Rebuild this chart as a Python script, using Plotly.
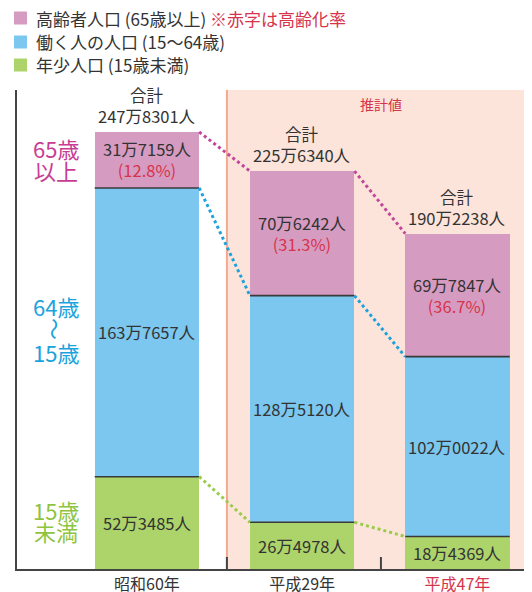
import plotly.graph_objects as go

# ---- data ----
periods = ["昭和60年", "平成29年", "平成47年"]
senior = [317159, 706242, 697847]      # 65歳以上
working = [1637657, 1285120, 1020022]  # 15〜64歳
young = [523485, 264978, 184369]       # 15歳未満
totals = [2478301, 2256340, 1902238]
aging_rate = ["12.8%", "31.3%", "36.7%"]

legend_names = ["高齢者人口 (65歳以上)", "働く人の人口 (15〜64歳)", "年少人口 (15歳未満)"]
legend_note = "※赤字は高齢化率"

# ---- style ----
FONT = "Noto Sans CJK JP"
C_PINK, C_BLUE, C_GREEN = "#d69bc1", "#7bc7ef", "#add36b"
C_PINK_D, C_BLUE_D, C_GREEN_D = "#c2469b", "#1ea2dc", "#9bcb4b"
C_LAB_PINK, C_LAB_BLUE, C_LAB_GREEN = "#c83d94", "#1aa3dc", "#8fc441"
RED = "#d6334c"
TXT = "#333333"
BAR_W = 0.673

# page body has an 8px default margin; lay out in window pixels
OFF = 8
WIN_W, WIN_H = 532, 592
W, H = WIN_W - OFF, WIN_H - OFF
PLOT_L, PLOT_T, PLOT_B = 17, 90, 569   # window pixels
ML, MT = PLOT_L - OFF, PLOT_T - OFF
MR, MB = 0, WIN_H - PLOT_B
PW, PH = W - ML - MR, H - MT - MB


def PX(px):
    return (px - PLOT_L) / PW


def PY(py):
    return (PLOT_B - py) / PH


def fmt(v):
    return f"{v // 10000}万{v % 10000:04d}人"


xs = list(range(len(periods)))
fig = go.Figure()

for vals, col in [(young, C_GREEN), (working, C_BLUE), (senior, C_PINK)]:
    fig.add_trace(go.Bar(x=xs, y=vals, width=BAR_W, marker=dict(color=col, line=dict(width=0)),
                         showlegend=False, hoverinfo="skip"))

# segment separators
lvl_young = young
lvl_work = [a + b for a, b in zip(young, working)]
for lvl in (lvl_young, lvl_work):
    for i, v in enumerate(lvl):
        fig.add_trace(go.Scatter(x=[i - BAR_W / 2, i + BAR_W / 2], y=[v, v], mode="lines",
                                 line=dict(color="#3a3a3a", width=1.6), showlegend=False, hoverinfo="skip"))

# dotted connectors
for lvl, col in [(totals, C_PINK_D), (lvl_work, C_BLUE_D), (lvl_young, C_GREEN_D)]:
    for i in range(len(lvl) - 1):
        fig.add_trace(go.Scatter(x=[i + BAR_W / 2, i + 1 - BAR_W / 2], y=[lvl[i], lvl[i + 1]], mode="lines",
                                 line=dict(color=col, width=3, dash="dot"), showlegend=False, hoverinfo="skip"))

ann = []
FS = 16.5
# totals
for i, t in enumerate(totals):
    ann.append(dict(x=i, y=t, xref="x", yref="y", xanchor="center", yanchor="bottom", yshift=2, showarrow=False,
                    text=f"合計<br>{fmt(t)}", font=dict(size=FS, color=TXT, family=FONT)))
# in-bar labels
for i in xs:
    ann.append(dict(x=i, y=lvl_work[i] + senior[i] / 2, xref="x", yref="y", xanchor="center", yanchor="middle",
                    showarrow=False,
                    text=f"{fmt(senior[i])}<br><span style='color:{RED}'>({aging_rate[i]})</span>",
                    font=dict(size=FS, color=TXT, family=FONT)))
    ann.append(dict(x=i, y=young[i] + working[i] / 2, xref="x", yref="y", xanchor="center", yanchor="middle",
                    showarrow=False, text=fmt(working[i]), font=dict(size=FS, color=TXT, family=FONT)))
    ann.append(dict(x=i, y=young[i] / 2, xref="x", yref="y", xanchor="center", yanchor="middle",
                    showarrow=False, text=fmt(young[i]), font=dict(size=FS, color=TXT, family=FONT)))

# left group labels
for txt, py, col, ang in [("65歳", 148, C_LAB_PINK, 0), ("以上", 170, C_LAB_PINK, 0),
                          ("64歳", 306, C_LAB_BLUE, 0), ("〜", 329, C_LAB_BLUE, 90), ("15歳", 352, C_LAB_BLUE, 0),
                          ("15歳", 510, C_LAB_GREEN, 0), ("未満", 531, C_LAB_GREEN, 0)]:
    ann.append(dict(x=PX(56), y=PY(py), xref="paper", yref="paper", xanchor="center", yanchor="middle",
                    showarrow=False, text=txt, textangle=ang, font=dict(size=22, color=col, family=FONT)))

# estimate label
ann.append(dict(x=PX(381), y=PY(104), xref="paper", yref="paper", xanchor="center", yanchor="middle",
                showarrow=False, text="推計値", font=dict(size=14, color=RED, family=FONT)))

# legend
shapes = []
for k, (name, col, py) in enumerate(zip(legend_names, [C_PINK, C_BLUE, C_GREEN], [18, 42, 65])):
    shapes.append(dict(type="rect", xref="paper", yref="paper", x0=PX(14), x1=PX(27), y0=PY(py + 6.5), y1=PY(py - 6.5),
                       fillcolor=col, line=dict(width=0)))
    t = name if k else f"{name} <span style='color:{RED}'>{legend_note}</span>"
    ann.append(dict(x=PX(34), y=PY(py), xref="paper", yref="paper", xanchor="left", yanchor="middle",
                    showarrow=False, text=t, font=dict(size=17, color=TXT, family=FONT)))

# estimate region shading
shade_x = 0.515
shapes.append(dict(type="rect", xref="x", yref="paper", x0=shade_x, x1=3, y0=0, y1=1,
                   fillcolor="#fce4da", line=dict(width=0), layer="below"))
shapes.append(dict(type="line", xref="x", yref="paper", x0=shade_x, x1=shade_x, y0=0, y1=1,
                   line=dict(color="#f4a88f", width=2), layer="below"))
# small ticks between periods
for tx in (shade_x, 1.507):
    shapes.append(dict(type="line", xref="x", yref="paper", x0=tx, x1=tx, y0=0, y1=PY(557),
                       line=dict(color="#444", width=2)))

ticktext = periods[:-1] + [f"<span style='color:{RED}'>{periods[-1]}</span>"]

fig.update_layout(
    width=W, height=H, margin=dict(l=ML, r=MR, t=MT, b=MB, pad=0),
    barmode="stack", bargap=0, plot_bgcolor="white", paper_bgcolor="white",
    font=dict(family=FONT, color=TXT),
    xaxis=dict(range=[-0.837, 2.48], tickvals=xs, ticktext=ticktext, showgrid=False, zeroline=False,
               showline=True, linecolor="#444", linewidth=2, ticks="", automargin=False,
               tickfont=dict(size=16, color=TXT, family=FONT), fixedrange=True),
    yaxis=dict(range=[0, 2716500], showticklabels=False, showgrid=False, zeroline=False,
               showline=True, linecolor="#444", linewidth=2, ticks="", automargin=False, fixedrange=True),
    annotations=ann, shapes=shapes, showlegend=False,
)

fig.write_html("out.html")
